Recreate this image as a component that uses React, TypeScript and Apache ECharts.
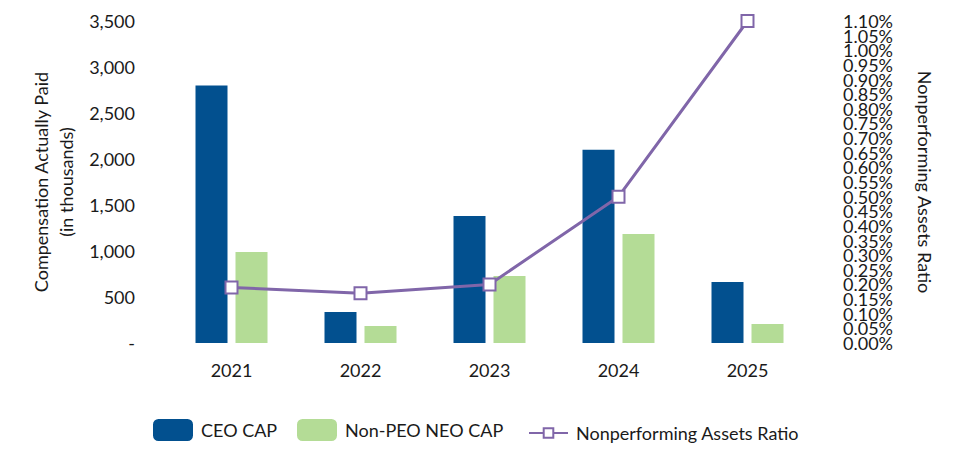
import React, { useEffect, useRef } from "react";
import * as echarts from "echarts";

const years = ["2021", "2022", "2023", "2024", "2025"];
const ceoCap = [2800, 337, 1380, 2100, 663];
const neoCap = [990, 185, 728, 1185, 207];
const npaRatio = [0.19, 0.17, 0.2, 0.5, 1.1];
const leftTicks = { min: 0, max: 3500, interval: 500 };
const rightTicks = { min: 0, max: 1.1, interval: 0.05 };

const FONT = "Lato";
const TXT = "#1a1a1a";
const legendText = { fontFamily: FONT, fontSize: 18, color: TXT, padding: [0, 0, 0, 3] };
const pct = (v: number) => v.toFixed(2) + "%";
const rightLabel = {
  fontFamily: FONT,
  fontSize: 18,
  lineHeight: 12,
  color: TXT,
  margin: 31,
  formatter: pct,
};

export default function App() {
  const ref = useRef<HTMLDivElement>(null);
  useEffect(() => {
    if (!ref.current) return;
    const chart = echarts.init(ref.current, null, { renderer: "svg" });
    chart.setOption({
      animation: false,
      textStyle: { fontFamily: FONT, color: TXT },
      grid: { left: 167, right: 148, top: 21, bottom: 117 },
      legend: [
        {
          data: ["CEO CAP"],
          left: 148,
          top: 414,
          itemWidth: 40,
          itemHeight: 22,
          textStyle: legendText,
        },
        {
          data: ["Non-PEO NEO CAP"],
          left: 292,
          top: 414,
          itemWidth: 40,
          itemHeight: 22,
          textStyle: legendText,
        },
        {
          data: ["Nonperforming Assets Ratio"],
          left: 523,
          top: 419,
          itemWidth: 39,
          itemHeight: 12,
          textStyle: legendText,
        },
      ],
      xAxis: {
        type: "category",
        data: years,
        axisLine: { show: false },
        axisTick: { show: false },
        axisLabel: { fontFamily: FONT, fontSize: 18, color: TXT, margin: 18 },
      },
      yAxis: [
        {
          type: "value",
          ...leftTicks,
          name: "Compensation Actually Paid\n(in thousands)",
          nameLocation: "middle",
          nameRotate: 90,
          nameGap: 88,
          nameTextStyle: { fontFamily: FONT, fontSize: 18, color: TXT, lineHeight: 25 },
          splitLine: { show: false },
          axisLine: { show: false },
          axisTick: { show: false },
          axisLabel: {
            fontFamily: FONT,
            fontSize: 18,
            color: TXT,
            margin: 32,
            formatter: (v: number) => (v === 0 ? "-" : v.toLocaleString("en-US")),
          },
        },
        {
          type: "value",
          ...rightTicks,
          position: "right",
          name: "Nonperforming Assets Ratio",
          nameLocation: "middle",
          nameRotate: -90,
          nameGap: 104,
          nameTextStyle: { fontFamily: FONT, fontSize: 18, color: TXT },
          splitLine: { show: false },
          axisLine: { show: false },
          axisTick: { show: false },
          axisLabel: { ...rightLabel, showMinLabel: false, showMaxLabel: false },
        },
        {
          type: "value",
          min: rightTicks.min,
          max: rightTicks.max,
          interval: rightTicks.max - rightTicks.min,
          position: "right",
          splitLine: { show: false },
          axisLine: { show: false },
          axisTick: { show: false },
          axisLabel: { ...rightLabel, showMinLabel: true, showMaxLabel: true },
        },
      ],
      series: [
        {
          name: "CEO CAP",
          type: "bar",
          data: ceoCap,
          barWidth: 32,
          barGap: "25%",
          itemStyle: { color: "#02508F" },
        },
        {
          name: "Non-PEO NEO CAP",
          type: "bar",
          data: neoCap,
          barWidth: 32,
          barGap: "25%",
          itemStyle: { color: "#B4DC96" },
        },
        {
          name: "Nonperforming Assets Ratio",
          type: "line",
          yAxisIndex: 1,
          data: npaRatio,
          symbol: "rect",
          symbolSize: 12,
          lineStyle: { color: "#8066A9", width: 3 },
          itemStyle: { color: "#FFFFFF", borderColor: "#8066A9", borderWidth: 2 },
        },
      ],
    });
    return () => chart.dispose();
  }, []);
  return (
    <div
      ref={ref}
      style={{ position: "fixed", left: 0, top: 0, width: 960, height: 460, background: "#fff" }}
    />
  );
}
